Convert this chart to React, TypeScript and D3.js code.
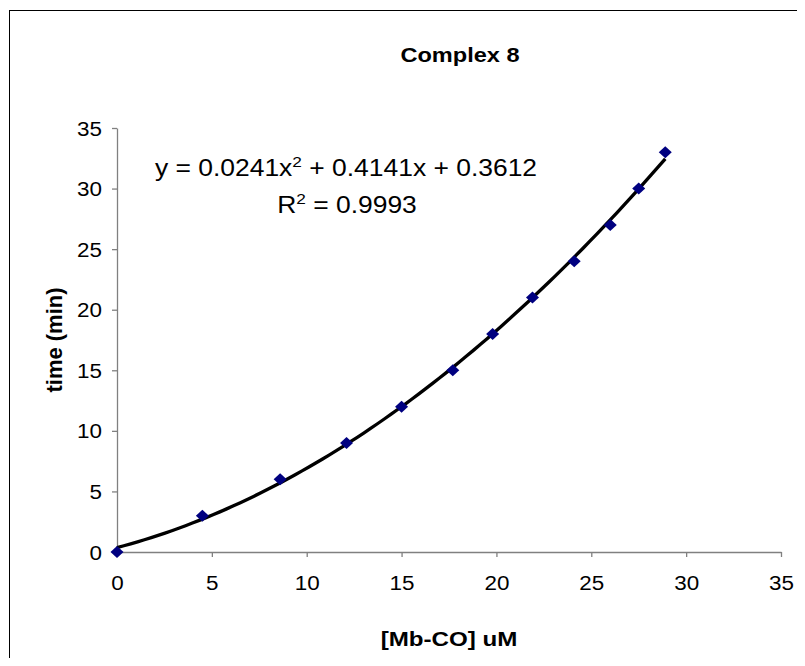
import React, { useEffect, useRef } from "react";
import * as d3 from "d3";

// values
const concentration = [0, 4.5, 8.6, 12.1, 15, 17.7, 19.8, 21.9, 24.1, 26, 27.5, 28.9];
const timeMin = [0, 3, 6, 9, 12, 15, 18, 21, 24, 27, 30, 33];
const xTicks = [0, 5, 10, 15, 20, 25, 30, 35];
const yTicks = [0, 5, 10, 15, 20, 25, 30, 35];
// polynomial trendline shown in the chart: a x^2 + b x + c
const trendCoef = [0.0241, 0.4141, 0.3612];
const chartTitle = "Complex 8";
const xTitle = "[Mb-CO] uM";
const yTitle = "time (min)";
const rSquared = "0.9993";

const width = 805;
const height = 666;
const stretch = 1.15;
const font = "'Liberation Sans', Arial, sans-serif";

const App = () => {
    const ref = useRef<SVGSVGElement>(null);

    useEffect(() => {
        const svg = d3.select(ref.current);
        svg.selectAll("*").remove();

        const xScale = d3.scaleLinear().domain([0, 35]).range([117, 781]);
        const yScale = d3.scaleLinear().domain([0, 35]).range([552, 128]);

        svg.append("rect")
            .attr("x", 9.5)
            .attr("y", 10.5)
            .attr("width", 792)
            .attr("height", 652)
            .attr("fill", "white")
            .attr("stroke", "black")
            .attr("stroke-width", 1);

        const stretchedText = (x: number, y: number, size: number, bold: boolean, txt: string) =>
            svg.append("text")
                .attr("transform", "translate(" + x + "," + y + ") scale(" + stretch + ",1)")
                .attr("text-anchor", "middle")
                .style("font-family", font)
                .style("font-size", size + "px")
                .style("font-weight", bold ? "bold" : "normal")
                .text(txt);

        stretchedText(460, 62, 20.5, true, chartTitle);
        stretchedText(449, 646, 21, true, xTitle);

        svg.append("text")
            .attr("transform", "translate(62," + 340 + ") rotate(-90)")
            .attr("text-anchor", "middle")
            .style("font-family", font)
            .style("font-size", "22px")
            .style("font-weight", "bold")
            .text(yTitle);

        // axes
        const xAxis = d3.axisBottom(xScale).tickValues(xTicks).tickSize(5).tickSizeOuter(0);
        const yAxis = d3.axisLeft(yScale).tickValues(yTicks).tickSize(5).tickSizeOuter(0);

        const gx = svg.append("g")
            .attr("transform", "translate(0," + yScale(0) + ")")
            .call(xAxis);
        const gy = svg.append("g")
            .attr("transform", "translate(" + xScale(0) + ",0)")
            .call(yAxis);

        [gx, gy].forEach((g) => {
            g.select(".domain").attr("stroke", "#808080").attr("stroke-width", 1.3);
            g.selectAll(".tick line").attr("stroke", "#808080").attr("stroke-width", 1.3);
            g.selectAll(".tick text")
                .attr("fill", "black")
                .style("font-family", font)
                .style("font-size", "19.5px");
        });
        // horizontal stretch of tick labels
        gx.selectAll(".tick text").each(function () {
            const t = d3.select(this);
            t.attr("y", null).attr("dy", null)
                .attr("transform", "translate(0,38) scale(" + stretch + ",1)");
        });
        gy.selectAll(".tick text").each(function () {
            const t = d3.select(this);
            t.attr("x", null).attr("dy", null)
                .attr("transform", "translate(-15,7) scale(" + stretch + ",1)");
        });

        // trendline
        const [a, b, c] = trendCoef;
        const xMax = d3.max(concentration) as number;
        const trendX = d3.range(0, xMax + 0.001, xMax / 80);
        const line = d3.line<number>()
            .x((v) => xScale(v))
            .y((v) => yScale(a * v * v + b * v + c));
        svg.append("path")
            .datum(trendX)
            .attr("d", line)
            .attr("fill", "none")
            .attr("stroke", "black")
            .attr("stroke-width", 3.3)
            .attr("stroke-linejoin", "round");

        // diamond markers
        svg.selectAll(".pt")
            .data(concentration)
            .enter()
            .append("path")
            .attr("class", "pt")
            .attr("transform", (d, i) => "translate(" + xScale(d) + "," + yScale(timeMin[i]) + ")")
            .attr("d", "M0,-6 L6.5,0 L0,6 L-6.5,0 Z")
            .attr("fill", "#000080");

        // equation label
        const eq = svg.append("text")
            .attr("transform", "translate(346,176) scale(" + stretch + ",1)")
            .attr("text-anchor", "middle")
            .style("font-family", font)
            .style("font-size", "23px");
        eq.append("tspan").text("y = " + trendCoef[0] + "x");
        eq.append("tspan").attr("dy", -9).style("font-size", "15px").text("2");
        eq.append("tspan").attr("dy", 9).text(" + " + trendCoef[1] + "x + " + trendCoef[2]);

        const r2 = svg.append("text")
            .attr("transform", "translate(347,213) scale(" + stretch + ",1)")
            .attr("text-anchor", "middle")
            .style("font-family", font)
            .style("font-size", "23px");
        r2.append("tspan").text("R");
        r2.append("tspan").attr("dy", -9).style("font-size", "15px").text("2");
        r2.append("tspan").attr("dy", 9).text(" = " + rSquared);
    }, []);

    return (
        <div style={{ margin: -8, width: width, height: height }}>
            <svg ref={ref} width={width} height={height} style={{ display: "block", background: "white" }} />
        </div>
    );
};

export default App;
